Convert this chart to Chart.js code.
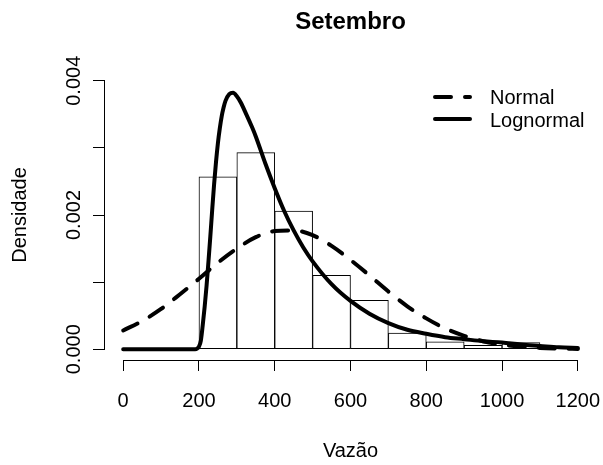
<!DOCTYPE html>
<html>
<head>
<meta charset="utf-8">
<script src="https://cdn.jsdelivr.net/npm/chart.js@4.4.1/dist/chart.umd.min.js"></script>
<style>
  html, body { margin: 0; padding: 0; background: #fff; }
</style>
</head>
<body>
<canvas id="densChart" width="603" height="465"></canvas>
<script>
// histogram: class centres (width 100) and density heights
var binCenters = [250, 350, 450, 550, 650, 750, 850, 950, 1050, 1150];
var binDensity = [0.00257, 0.00293, 0.00206, 0.00110, 0.00073, 0.00024, 0.00011, 0.00006, 0.00010, 0.00004];

// fitted normal density
var normalX = [0, 50, 100, 150, 200, 250, 300, 350, 400, 450, 500, 550, 600,
               650, 700, 750, 800, 850, 900, 950, 1000, 1050, 1100, 1150, 1200];
var normalY = [0.00028, 0.00042, 0.00060, 0.00082, 0.00105, 0.00129, 0.00150, 0.00167, 0.00176,
               0.00177, 0.00170, 0.00154, 0.00133, 0.00110, 0.00086, 0.00064, 0.00046, 0.00031,
               0.00020, 0.00012, 0.00007, 0.00004, 0.00002, 0.00001, 0.000005];

// fitted lognormal density
var lognormX = [0, 190, 195, 200, 205, 210, 215, 220, 225, 230, 235, 240, 245, 250, 255, 260,
                265, 270, 280, 290, 300, 310, 325, 340, 350, 375, 400, 425, 450, 475, 500, 550,
                600, 650, 700, 750, 800, 850, 900, 950, 1000, 1050, 1100, 1150, 1200];
var lognormY = [0, 0, 0.00001, 0.00004, 0.00013, 0.00036, 0.00063, 0.00094, 0.00130, 0.00168,
                0.00208, 0.00246, 0.00279, 0.00307, 0.00329, 0.00347, 0.00360, 0.00370, 0.00380,
                0.00382, 0.00377, 0.00368, 0.00350, 0.00331, 0.00317, 0.00277, 0.00240, 0.00206,
                0.00177, 0.00152, 0.00131, 0.00097, 0.00072, 0.00053, 0.00039, 0.00029, 0.00023,
                0.00018, 0.00015, 0.00012, 0.00010, 0.00007, 0.00005, 0.00003, 0.00002];

var xTicks = [0, 200, 400, 600, 800, 1000, 1200];
var yTicks = [0, 0.001, 0.002, 0.003, 0.004];
var yLabelled = [0, 0.002, 0.004];
var yTickLabels = ['0.000', '0.002', '0.004'];

var legendNames = ['Normal', 'Lognormal'];

var FONT = "'Liberation Sans', Arial, Helvetica, sans-serif";

function pts(xs, ys) {
    return xs.map(function (v, i) { return { x: v, y: ys[i] }; });
}

// axis lines only over the tick range, rotated y labels and the legend box
var rAxes = {
    id: 'rAxes',
    afterDraw: function (chart) {
        var ctx = chart.ctx;
        var x = chart.scales.x, y = chart.scales.y;
        var area = chart.chartArea;
        ctx.save();
        ctx.strokeStyle = '#000';
        ctx.lineWidth = 1;
        ctx.setLineDash([]);

        var yb = Math.round(area.bottom) + 0.5;
        ctx.beginPath();
        ctx.moveTo(x.getPixelForValue(xTicks[0]), yb);
        ctx.lineTo(x.getPixelForValue(xTicks[xTicks.length - 1]), yb);
        ctx.stroke();

        var xl = Math.round(area.left) - 0.5;
        ctx.beginPath();
        ctx.moveTo(xl, y.getPixelForValue(yTicks[0]));
        ctx.lineTo(xl, y.getPixelForValue(yTicks[yTicks.length - 1]));
        ctx.stroke();

        ctx.fillStyle = '#000';
        ctx.font = '20px ' + FONT;
        ctx.textAlign = 'center';
        ctx.textBaseline = 'alphabetic';
        yLabelled.forEach(function (v, i) {
            ctx.save();
            ctx.translate(80, y.getPixelForValue(v));
            ctx.rotate(-Math.PI / 2);
            ctx.fillText(yTickLabels[i], 0, 0);
            ctx.restore();
        });

        // legend
        ctx.lineWidth = 4;
        ctx.lineCap = 'round';
        ctx.setLineDash([16, 14]);
        ctx.beginPath();
        ctx.moveTo(435, 97);
        ctx.lineTo(470, 97);
        ctx.stroke();
        ctx.setLineDash([]);
        ctx.beginPath();
        ctx.moveTo(435, 119);
        ctx.lineTo(470, 119);
        ctx.stroke();

        ctx.textAlign = 'left';
        ctx.textBaseline = 'middle';
        ctx.fillText(legendNames[0], 490, 98);
        ctx.fillText(legendNames[1], 490, 121);
        ctx.restore();
    }
};

var densChart = new Chart(document.getElementById('densChart'), {
    type: 'bar',
    data: {
        datasets: [
            {
                type: 'line',
                label: 'Lognormal',
                data: pts(lognormX, lognormY),
                borderColor: '#000',
                borderWidth: 4,
                borderCapStyle: 'round',
                borderJoinStyle: 'round',
                pointRadius: 0,
                cubicInterpolationMode: 'monotone',
                fill: false,
                order: 1
            },
            {
                type: 'line',
                label: 'Normal',
                data: pts(normalX, normalY),
                borderColor: '#000',
                borderWidth: 4,
                borderDash: [16, 14],
                borderCapStyle: 'round',
                pointRadius: 0,
                cubicInterpolationMode: 'monotone',
                fill: false,
                order: 2
            },
            {
                type: 'bar',
                label: 'Histograma',
                data: pts(binCenters, binDensity),
                backgroundColor: '#fff',
                borderColor: '#000',
                borderWidth: 1,
                borderSkipped: false,
                barPercentage: 1,
                categoryPercentage: 1,
                order: 3
            }
        ]
    },
    options: {
        responsive: false,
        animation: false,
        devicePixelRatio: 1,
        layout: { padding: { left: 0, right: 7, top: 0, bottom: 0 } },
        plugins: {
            legend: { display: false },
            tooltip: { enabled: false },
            title: {
                display: true,
                fullSize: false,
                text: 'Setembro',
                color: '#000',
                font: { family: FONT, size: 24, weight: 'bold' },
                padding: { top: 8, bottom: 33.2 }
            }
        },
        scales: {
            x: {
                type: 'linear',
                min: -48,
                max: 1248,
                offset: false,
                afterBuildTicks: function (s) {
                    s.ticks = xTicks.map(function (v) { return { value: v }; });
                },
                afterFit: function (s) {
                    s.height = 105;
                    s.paddingLeft = 0;
                    s.paddingRight = 0;
                },
                border: { display: false },
                grid: {
                    offset: false,
                    drawOnChartArea: false,
                    drawTicks: true,
                    tickLength: 11,
                    tickColor: '#000',
                    tickWidth: 1
                },
                ticks: {
                    color: '#000',
                    font: { family: FONT, size: 20 },
                    padding: 18,
                    maxRotation: 0,
                    autoSkip: false,
                    callback: function (v) { return String(v); }
                },
                title: {
                    display: true,
                    text: 'Vazão',
                    color: '#000',
                    font: { family: FONT, size: 20 },
                    padding: { top: 0, bottom: 2 }
                }
            },
            y: {
                type: 'linear',
                min: -0.00016,
                max: 0.00416,
                afterBuildTicks: function (s) {
                    s.ticks = yTicks.map(function (v) { return { value: v }; });
                },
                afterFit: function (s) {
                    s.width = 105;
                    s.paddingTop = 0;
                    s.paddingBottom = 0;
                },
                border: { display: false },
                grid: {
                    drawOnChartArea: false,
                    drawTicks: true,
                    tickLength: 12,
                    tickColor: '#000',
                    tickWidth: 1
                },
                ticks: { display: false },
                title: {
                    display: true,
                    text: 'Densidade',
                    color: '#000',
                    font: { family: FONT, size: 20 },
                    padding: { top: 8.5, bottom: 0 }
                }
            }
        }
    },
    plugins: [rAxes]
});
</script>
</body>
</html>
